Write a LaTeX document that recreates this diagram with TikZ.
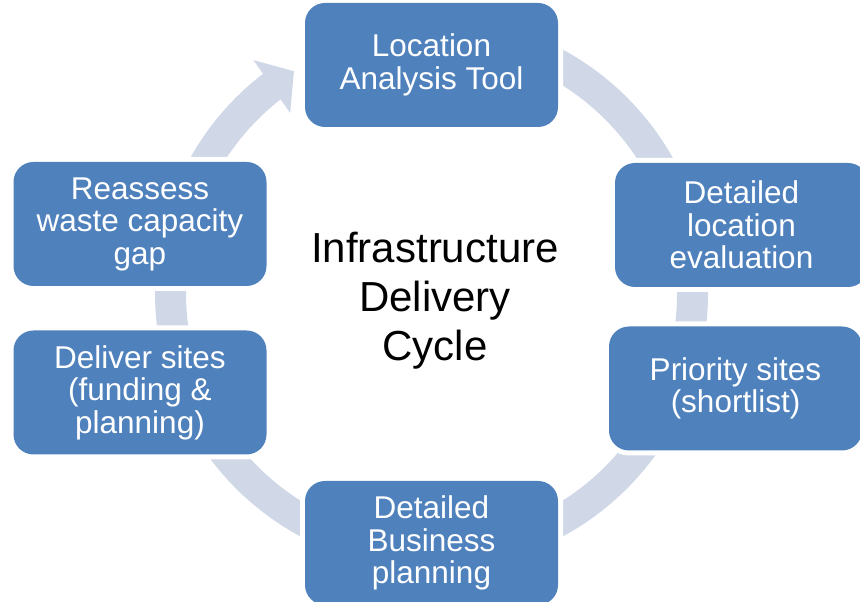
\documentclass[tikz,border=0pt]{standalone}
\usepackage{fontspec}
\setmainfont{Liberation Sans}
\usetikzlibrary{arrows.meta,bending}
\definecolor{boxblue}{HTML}{4F81BD}
\definecolor{ringgray}{HTML}{D0D8E8}
\tikzset{
    stage/.style={fill=boxblue, text=white, rounded corners=20pt,
        minimum width=253pt, minimum height=124pt, inner sep=0pt,
        align=center, font=\fontsize{31.5}{32.5}\selectfont,
        preaction={draw=white, line width=10pt}},
    ring/.style={ringgray, line width=31pt}
}
\begin{document}
\begin{tikzpicture}[x=1pt,y=1pt]
    \clip (0,0) rectangle (860,602);
    % Draw the ring, ending in its arrow
    \coordinate (hub) at (431.5,309);
    \draw[ring,-{Triangle[width=63pt,length=27pt]}] (hub) ++(97:261)
        arc[start angle=97, end angle=-238.2, radius=261];
    % Draw the stages round the ring
    \node[stage] (loc) at (431.5,537) {Location\\Analysis Tool};
    \node[stage] (evl) at (741.5,377) {Detailed\\location\\evaluation};
    \node[stage] (pri) at (735.5,213.5) {Priority sites\\(shortlist)};
    \node[stage] (biz) at (431.5,59) {Detailed\\Business\\planning};
    \node[stage] (dlv) at (140,209.5) {Deliver sites\\(funding \&\\planning)};
    \node[stage] (rea) at (140,378) {Reassess\\waste capacity\\gap};
    % Title in the middle
    \node[font=\fontsize{42}{49}\selectfont, align=center] (title) at (435,301)
        {Infrastructure\\Delivery\\Cycle};
\end{tikzpicture}
\end{document}
